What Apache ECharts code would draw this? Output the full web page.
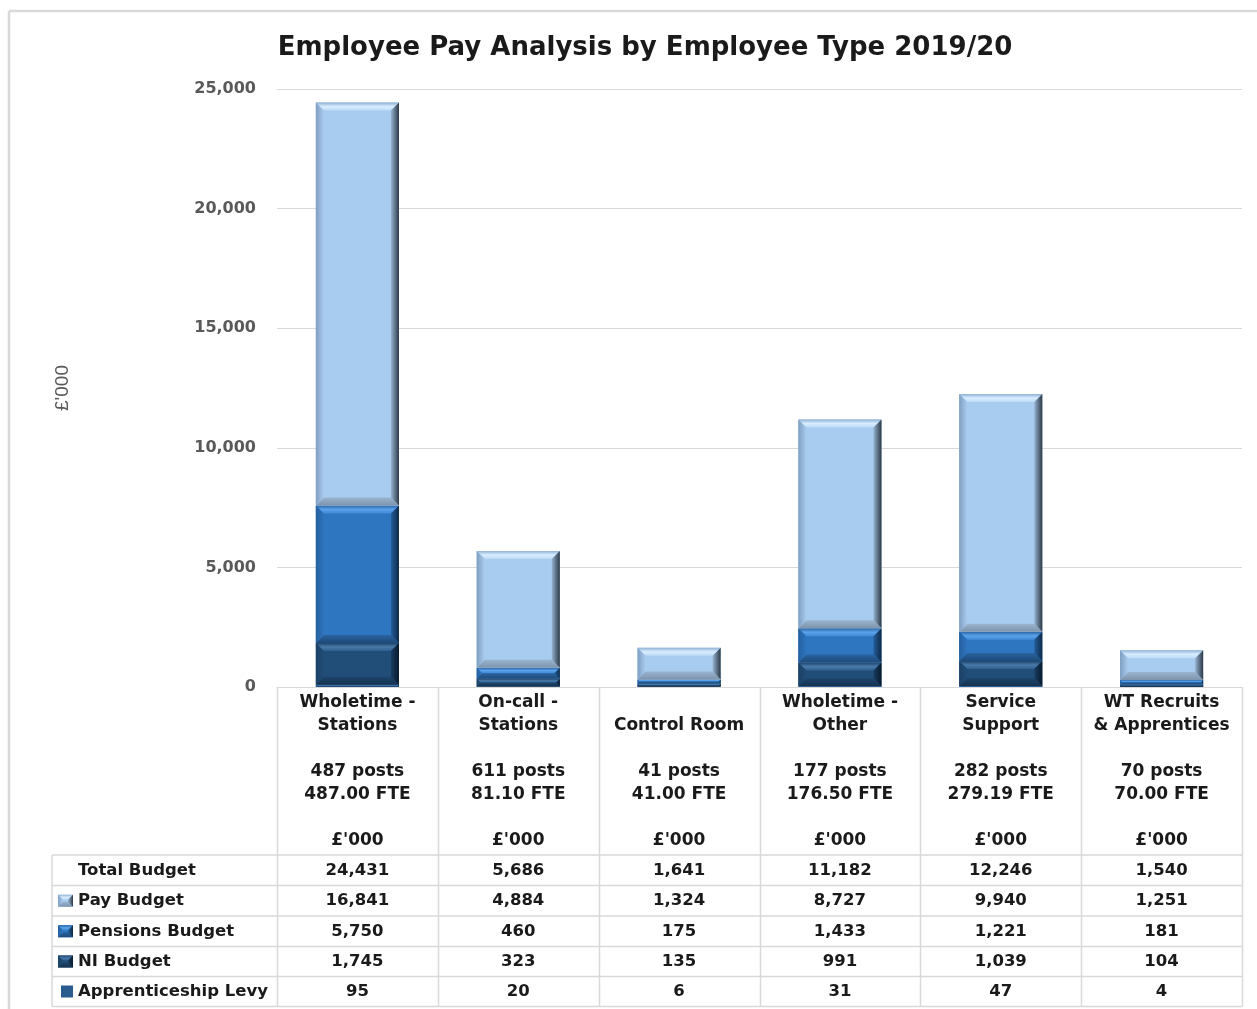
<!DOCTYPE html>
<html>
<head>
<meta charset="utf-8">
<script src="https://cdn.jsdelivr.net/npm/echarts@6/dist/echarts.min.js"></script>
<style>
  html, body { margin: 0; padding: 0; background: #ffffff; }
  #chart { width: 1257px; height: 1009px; }
</style>
</head>
<body>
<div id="chart"></div>
<script>
// Employee pay analysis 2019/20 – categories, headcount and budget figures (£'000)
const categories = ['Wholetime -\nStations', 'On-call -\nStations', 'Control Room', 'Wholetime -\nOther', 'Service\nSupport', 'WT Recruits\n& Apprentices'];
const posts = ['487 posts', '611 posts', '41 posts', '177 posts', '282 posts', '70 posts'];
const fte = ['487.00 FTE', '81.10 FTE', '41.00 FTE', '176.50 FTE', '279.19 FTE', '70.00 FTE'];
const unitLabel = "£'000";

const totalBudget = [24431, 5686, 1641, 11182, 12246, 1540];
const payBudget = [16841, 4884, 1324, 8727, 9940, 1251];
const pensionsBudget = [5750, 460, 175, 1433, 1221, 181];
const niBudget = [1745, 323, 135, 991, 1039, 104];
const apprenticeshipLevy = [95, 20, 6, 31, 47, 4];

const rowNames = ['Total Budget', 'Pay Budget', 'Pensions Budget', 'NI Budget', 'Apprenticeship Levy'];
const yTicks = [0, 5000, 10000, 15000, 20000, 25000];

const FONT = '"DejaVu Sans", Verdana, sans-serif';
const INK = '#1a1a1a';
const LINE = '#d9d9d9';

// Bevelled fill styles per budget component
const palettes = {
  pay: {
    base: '#a8ccf0',
    top: ['#8fb2d6', '#d9edff', '#bcdaf7'],
    bottom: ['#9ab4cf', '#7d93ab'],
    left: ['#7f9fc0', '#a9cbee'],
    right: ['#95b2cf', '#2c3947']
  },
  pensions: {
    base: '#2f76c1',
    top: ['#2a66a6', '#5aa2ea', '#3f89d6'],
    bottom: ['#2a63a0', '#1d4a78'],
    left: ['#24609f', '#2f74bd'],
    right: ['#235d9a', '#0e2a48']
  },
  ni: {
    base: '#214d79',
    top: ['#1d436a', '#4a7aaa', '#2f5f8e'],
    bottom: ['#1d456d', '#15324f'],
    left: ['#1b4166', '#214c77'],
    right: ['#193d61', '#081a2d']
  },
  levy: {
    base: '#2e62a0',
    top: ['#2a5a92', '#4f86c4', '#3a70ae'],
    bottom: ['#285790', '#1c3f68'],
    left: ['#28578e', '#2e62a0'],
    right: ['#234e80', '#102a48']
  }
};

function lin(x2, y2, stops) {
  const n = stops.length;
  return {
    type: 'linear', x: 0, y: 0, x2: x2, y2: y2,
    colorStops: stops.map((c, i) => ({ offset: n === 1 ? 0 : i / (n - 1), color: c }))
  };
}

// Builds the shapes of one bevelled block
function bevelShapes(x0, y0, w, h, pal, depth) {
  const x1 = x0 + w, y1 = y0 + h;
  const b = Math.max(0, Math.min(depth, h / 2, w / 2));
  return [
    { type: 'rect', shape: { x: x0, y: y0, width: w, height: h }, style: { fill: pal.base }, silent: true },
    { type: 'polygon', shape: { points: [[x0, y0], [x1, y0], [x1 - b, y0 + b], [x0 + b, y0 + b]] },
      style: { fill: lin(0, 1, pal.top) }, silent: true },
    { type: 'polygon', shape: { points: [[x0, y1], [x1, y1], [x1 - b, y1 - b], [x0 + b, y1 - b]] },
      style: { fill: lin(0, 1, pal.bottom) }, silent: true },
    { type: 'polygon', shape: { points: [[x0, y0], [x0 + b, y0 + b], [x0 + b, y1 - b], [x0, y1]] },
      style: { fill: lin(1, 0, pal.left) }, silent: true },
    { type: 'polygon', shape: { points: [[x1, y0], [x1 - b, y0 + b], [x1 - b, y1 - b], [x1, y1]] },
      style: { fill: lin(1, 0, pal.right) }, silent: true }
  ];
}

function renderBevel(pal) {
  return function (params, api) {
    const idx = api.value(0);
    const lo = api.coord([idx, api.value(1)]);
    const hi = api.coord([idx, api.value(2)]);
    const w = api.size([1, 0])[0] * 0.517;
    const h = lo[1] - hi[1];
    if (h <= 0) return null;
    return { type: 'group', children: bevelShapes(lo[0] - w / 2, hi[1], w, h, pal, 8) };
  };
}

// Stack from bottom to top: levy, NI, pensions, pay
const stackOrder = [
  { name: 'Apprenticeship Levy', values: apprenticeshipLevy, pal: palettes.levy },
  { name: 'NI Budget', values: niBudget, pal: palettes.ni },
  { name: 'Pensions Budget', values: pensionsBudget, pal: palettes.pensions },
  { name: 'Pay Budget', values: payBudget, pal: palettes.pay }
];
const running = categories.map(() => 0);
const series = stackOrder.map(s => {
  const data = s.values.map((v, i) => {
    const lo = running[i];
    running[i] += v;
    return [i, lo, running[i]];
  });
  return {
    type: 'custom', name: s.name, data: data,
    encode: { x: 0, y: [1, 2] },
    renderItem: renderBevel(s.pal),
    silent: true
  };
});

const chart = echarts.init(document.getElementById('chart'), null, { renderer: 'canvas' });

chart.setOption({
  animation: false,
  backgroundColor: '#ffffff',
  title: {
    text: 'Employee Pay Analysis by Employee Type 2019/20',
    left: 640, top: 27, textAlign: 'center',
    textStyle: { fontFamily: FONT, fontSize: 26, fontWeight: 'bold', color: INK, lineHeight: 32 }
  },
  grid: { left: 277, right: 15, top: 89, bottom: 322, containLabel: false },
  xAxis: {
    type: 'category', data: categories, boundaryGap: true,
    axisLine: { show: true, lineStyle: { color: LINE, width: 1 } },
    axisTick: { show: false },
    axisLabel: {
      interval: 0, margin: 4,
      fontFamily: FONT, fontSize: 17, fontWeight: 'bold', color: INK, lineHeight: 23,
      formatter: function (value, idx) {
        const name = value.indexOf('\n') < 0 ? '\n' + value : value;
        return name + '\n\n' + posts[idx] + '\n' + fte[idx] + '\n\n' + unitLabel;
      }
    }
  },
  yAxis: {
    type: 'value', min: yTicks[0], max: yTicks[yTicks.length - 1], interval: yTicks[1] - yTicks[0],
    name: unitLabel, nameLocation: 'middle', nameGap: 205, nameRotate: 90,
    nameTextStyle: { fontFamily: '"Liberation Sans", Arial, sans-serif', fontSize: 19, color: '#595959' },
    axisLine: { show: false }, axisTick: { show: false },
    splitLine: { lineStyle: { color: LINE, width: 1 } },
    axisLabel: {
      margin: 21, fontFamily: FONT, fontSize: 16, fontWeight: 'bold', color: '#595959',
      formatter: v => v.toLocaleString('en-GB')
    }
  },
  series: series
});

// Data table below the plot
const c0 = chart.convertToPixel({ xAxisIndex: 0 }, 0);
const c1 = chart.convertToPixel({ xAxisIndex: 0 }, 1);
const band = c1 - c0;
const axisY = chart.convertToPixel({ yAxisIndex: 0 }, 0);
const tableLeft = 52;
const colLeft = c0 - band / 2;
const tableRight = colLeft + band * categories.length;
const rowTops = [855, 885.5, 916, 946.5, 976.5, 1006.5];
const rowValues = [totalBudget, payBudget, pensionsBudget, niBudget, apprenticeshipLevy];
const rowIcons = [null, palettes.pay, palettes.pensions, palettes.ni, 'plain'];

const g = [];
const lineStyle = { stroke: LINE, lineWidth: 1.5 };
// frame lines
g.push({ type: 'line', shape: { x1: 9, y1: 11, x2: 1257, y2: 11 }, style: { stroke: '#d9d9d9', lineWidth: 2.5 }, silent: true });
g.push({ type: 'line', shape: { x1: 9, y1: 11, x2: 9, y2: 1009 }, style: { stroke: '#d9d9d9', lineWidth: 2.5 }, silent: true });
// column rules
for (let k = 0; k <= categories.length; k++) {
  const x = Math.round(colLeft + band * k) + 0.5;
  g.push({ type: 'line', shape: { x1: x, y1: axisY, x2: x, y2: rowTops[rowTops.length - 1] }, style: lineStyle, silent: true });
}
g.push({ type: 'line', shape: { x1: tableLeft, y1: rowTops[0], x2: tableLeft, y2: rowTops[rowTops.length - 1] }, style: lineStyle, silent: true });
// row rules
rowTops.forEach(y => {
  g.push({ type: 'line', shape: { x1: tableLeft, y1: y, x2: tableRight, y2: y }, style: lineStyle, silent: true });
});
// row labels, legend keys and values
rowNames.forEach((name, r) => {
  const cy = (rowTops[r] + rowTops[r + 1]) / 2;
  g.push({ type: 'text', x: 78, y: cy, silent: true,
    style: { text: name, fontFamily: FONT, fontSize: 16.5, fontWeight: 'bold', fill: INK, textAlign: 'left', textVerticalAlign: 'middle' } });
  const icon = rowIcons[r];
  if (icon === 'plain') {
    g.push({ type: 'rect', shape: { x: 61, y: cy - 6, width: 12, height: 12 }, style: { fill: '#2a5b8e' }, silent: true });
  } else if (icon) {
    g.push({ type: 'group', silent: true, children: bevelShapes(58, cy - 6, 15, 12, icon, 5) });
  }
  rowValues[r].forEach((v, i) => {
    const cx = chart.convertToPixel({ xAxisIndex: 0 }, i);
    g.push({ type: 'text', x: cx, y: cy, silent: true,
      style: { text: v.toLocaleString('en-GB'), fontFamily: FONT, fontSize: 16.5, fontWeight: 'bold', fill: INK, textAlign: 'center', textVerticalAlign: 'middle' } });
  });
});

chart.setOption({ graphic: { elements: g } });
</script>
</body>
</html>
